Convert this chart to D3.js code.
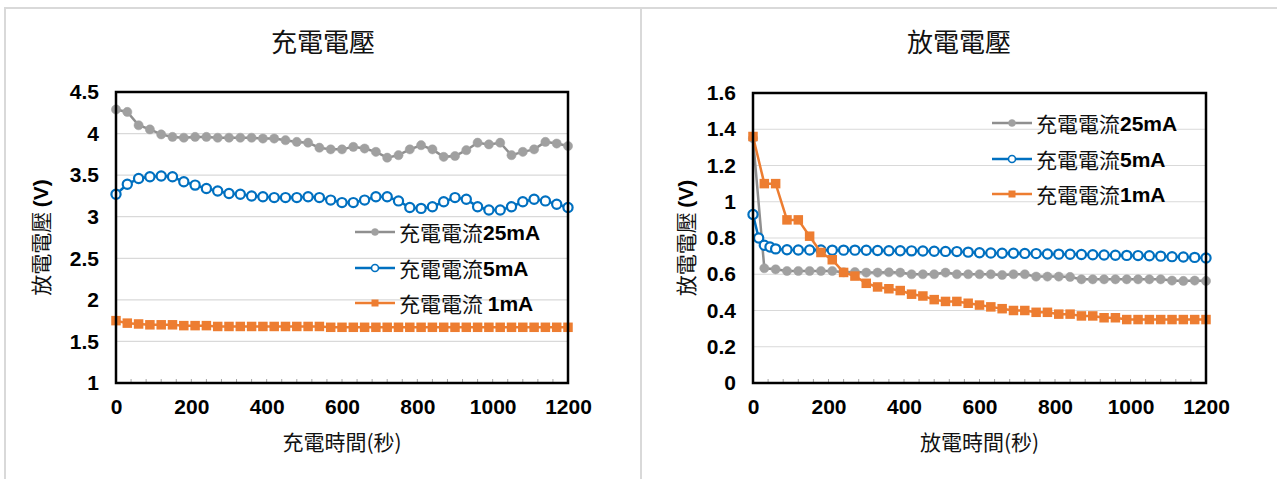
<!DOCTYPE html>
<html>
<head>
<meta charset="utf-8">
<script src="https://cdn.jsdelivr.net/npm/d3@7"></script>
<style>
  body { margin: 0; background: #fff; }
  .tick text { font-family: "Liberation Sans", Arial, sans-serif; font-weight: bold; font-size: 21px; fill: #000; }
  .cjk { font-family: "Noto Sans CJK TC", "Noto Sans CJK SC", sans-serif; fill: #111; }
</style>
</head>
<body>
<div id="chart"></div>
<script>
// Time stamps (seconds)
var timeStd = [0,30,60,90,120,150,180,210,240,270,300,330,360,390,420,450,480,510,540,570,
  600,630,660,690,720,750,780,810,840,870,900,930,960,990,1020,1050,1080,1110,1140,1170,1200];
var timeBlueDis = [0,15,30,45,60,90,120,150,180,210,240,270,300,330,360,390,420,450,480,510,540,570,
  600,630,660,690,720,750,780,810,840,870,900,930,960,990,1020,1050,1080,1110,1140,1170,1200];

// Charging voltage (left chart)
var charge25 = [4.29,4.26,4.10,4.05,3.99,3.96,3.95,3.96,3.96,3.95,3.95,3.95,3.95,3.94,3.94,3.92,3.90,3.89,3.83,3.81,
  3.81,3.84,3.82,3.78,3.71,3.74,3.81,3.86,3.81,3.72,3.73,3.80,3.89,3.87,3.89,3.74,3.78,3.81,3.90,3.88,3.85];
var charge5 = [3.27,3.39,3.46,3.48,3.49,3.48,3.42,3.38,3.34,3.31,3.28,3.27,3.25,3.24,3.23,3.23,3.23,3.24,3.23,3.20,
  3.17,3.17,3.20,3.24,3.24,3.19,3.11,3.10,3.12,3.18,3.23,3.21,3.12,3.08,3.08,3.12,3.18,3.21,3.19,3.15,3.11];
var charge1 = [1.75,1.72,1.71,1.70,1.70,1.70,1.69,1.69,1.69,1.68,1.68,1.68,1.68,1.68,1.68,1.68,1.68,1.68,1.68,1.67,
  1.67,1.67,1.67,1.67,1.67,1.67,1.67,1.67,1.67,1.67,1.67,1.67,1.67,1.67,1.67,1.67,1.67,1.67,1.67,1.67,1.67];

// Discharging voltage (right chart)
var discharge25 = [1.35,0.633,0.627,0.618,0.618,0.618,0.618,0.618,0.611,0.612,0.609,0.609,0.611,0.609,0.600,0.600,0.600,0.609,0.600,0.600,
  0.600,0.600,0.596,0.600,0.600,0.587,0.587,0.587,0.585,0.572,0.572,0.572,0.572,0.572,0.572,0.572,0.572,0.565,0.563,0.565,0.563];
var discharge5 = [0.93,0.80,0.76,0.75,0.74,0.735,0.734,0.734,0.734,0.733,0.733,0.733,0.732,0.731,0.73,0.73,0.729,0.728,0.727,0.726,0.725,0.722,
  0.719,0.717,0.716,0.716,0.715,0.714,0.712,0.711,0.71,0.709,0.708,0.706,0.705,0.704,0.703,0.702,0.70,0.697,0.695,0.693,0.69];
var discharge1 = [1.36,1.10,1.10,0.90,0.90,0.81,0.72,0.68,0.61,0.59,0.55,0.53,0.52,0.51,0.49,0.48,0.46,0.45,0.45,0.44,
  0.43,0.42,0.41,0.40,0.40,0.39,0.39,0.38,0.38,0.37,0.37,0.36,0.36,0.35,0.35,0.35,0.35,0.35,0.35,0.35,0.35];

// Tick values
var xTicks = [0,200,400,600,800,1000,1200];
var yTicksCharge = [1,1.5,2,2.5,3,3.5,4,4.5];
var yTicksDischarge = [0,0.2,0.4,0.6,0.8,1,1.2,1.4,1.6];

var svgWidth = 1277;
var svgHeight = 479;

var svg = d3.select("#chart")
  .append("svg")
  .attr("width", svgWidth)
  .attr("height", svgHeight);

// Panel borders
svg.append("rect")
  .attr("x", 5).attr("y", 8).attr("width", 636).attr("height", 500)
  .attr("fill", "none").attr("stroke", "#d9d9d9").attr("stroke-width", 2);
svg.append("rect")
  .attr("x", 641).attr("y", 8).attr("width", 660).attr("height", 500)
  .attr("fill", "none").attr("stroke", "#d9d9d9").attr("stroke-width", 2);

var gray = "#a0a0a0", grayLine = "#8f8f8f", blue = "#0070c0", orange = "#ed7d31";

function drawChart(cfg) {
  var g = svg.append("g");

  var x = d3.scaleLinear().domain([0, 1200]).range([cfg.left, cfg.right]);
  var y = d3.scaleLinear().domain(cfg.yDomain).range([cfg.bottom, cfg.top]);

  // Horizontal gridlines
  g.selectAll(".grid")
    .data(cfg.yTicks)
    .enter()
    .append("line")
    .attr("x1", cfg.left).attr("x2", cfg.right)
    .attr("y1", d => y(d)).attr("y2", d => y(d))
    .attr("stroke", "#d9d9d9").attr("stroke-width", 1.2);

  // Minor ticks on the time axis
  g.selectAll(".minor")
    .data(d3.range(40, 1200, 40))
    .enter()
    .append("line")
    .attr("x1", d => x(d)).attr("x2", d => x(d))
    .attr("y1", cfg.bottom).attr("y2", cfg.bottom - 4)
    .attr("stroke", "#a6a6a6").attr("stroke-width", 1);

  // Axes (labels only, lines are drawn with the frame)
  var leftAxis = d3.axisLeft(y).tickValues(cfg.yTicks).tickSize(0).tickPadding(17)
    .tickFormat(d3.format("~g"));
  var bottomAxis = d3.axisBottom(x).tickValues(xTicks).tickSize(0).tickPadding(16)
    .tickFormat(d3.format("d"));

  g.append("g").attr("transform", `translate(${cfg.left},0)`).call(leftAxis)
    .call(a => a.select(".domain").remove());
  g.append("g").attr("transform", `translate(0,${cfg.bottom})`).call(bottomAxis)
    .call(a => a.select(".domain").remove());

  // Series lines and markers
  cfg.series.forEach(function(s) {
    var pts = s.values.map((v, i) => [s.times[i], v]);
    var line = d3.line().x(d => x(d[0])).y(d => y(d[1]));
    g.append("path")
      .datum(pts)
      .attr("d", line)
      .attr("fill", "none")
      .attr("stroke", s.line)
      .attr("stroke-width", 2.5);

    if (s.shape === "square") {
      g.selectAll(null)
        .data(pts)
        .enter()
        .append("rect")
        .attr("x", d => x(d[0]) - 4.75)
        .attr("y", d => y(d[1]) - 4.75)
        .attr("width", 9.5).attr("height", 9.5)
        .attr("fill", s.color);
    } else {
      g.selectAll(null)
        .data(pts)
        .enter()
        .append("circle")
        .attr("cx", d => x(d[0]))
        .attr("cy", d => y(d[1]))
        .attr("r", s.shape === "open" ? 4.6 : 4.6)
        .attr("fill", s.shape === "open" ? "#fff" : s.color)
        .attr("stroke", s.color)
        .attr("stroke-width", s.shape === "open" ? 2.2 : 0.5);
    }
  });

  // Plot area frame
  g.append("rect")
    .attr("x", cfg.left).attr("y", cfg.top)
    .attr("width", cfg.right - cfg.left).attr("height", cfg.bottom - cfg.top)
    .attr("fill", "none").attr("stroke", "#000").attr("stroke-width", 2.5);

  // Legend
  cfg.series.forEach(function(s, i) {
    var ly = cfg.legendY[i];
    var lg = g.append("g");
    lg.append("line")
      .attr("x1", cfg.legendX).attr("x2", cfg.legendX + 40)
      .attr("y1", ly).attr("y2", ly)
      .attr("stroke", s.line).attr("stroke-width", 2.5);
    if (s.shape === "square") {
      lg.append("rect")
        .attr("x", cfg.legendX + 16.5).attr("y", ly - 3.5)
        .attr("width", 7).attr("height", 7).attr("fill", s.color);
    } else {
      lg.append("circle")
        .attr("cx", cfg.legendX + 20).attr("cy", ly).attr("r", 3.5)
        .attr("fill", s.shape === "open" ? "#fff" : s.color)
        .attr("stroke", s.color).attr("stroke-width", s.shape === "open" ? 1.6 : 0.5);
    }
    var t = lg.append("text")
      .attr("x", cfg.legendX + 44).attr("y", ly)
      .attr("dominant-baseline", "central")
      .attr("font-size", "21px");
    t.append("tspan").attr("class", "cjk").text(s.label[0]);
    t.append("tspan")
      .attr("font-family", "'Liberation Sans', Arial, sans-serif")
      .attr("font-weight", "bold").attr("fill", "#000")
      .text(s.label[1]);
  });

  // Titles
  g.append("text")
    .attr("class", "cjk")
    .attr("x", cfg.titleX).attr("y", 40)
    .attr("text-anchor", "middle").attr("dominant-baseline", "central")
    .attr("font-size", "26px")
    .text(cfg.title);

  g.append("text")
    .attr("class", "cjk")
    .attr("x", (cfg.left + cfg.right) / 2).attr("y", 441)
    .attr("text-anchor", "middle").attr("dominant-baseline", "central")
    .attr("font-size", "21px")
    .text(cfg.xTitle);

  var yt = g.append("text")
    .attr("transform", `translate(${cfg.yTitleX},${(cfg.top + cfg.bottom) / 2}) rotate(-90)`)
    .attr("text-anchor", "middle").attr("dominant-baseline", "central")
    .attr("font-size", "21px");
  yt.append("tspan").attr("class", "cjk").text("放電電壓 ");
  yt.append("tspan")
    .attr("font-family", "'Liberation Sans', Arial, sans-serif")
    .attr("font-weight", "bold").attr("fill", "#000")
    .text("(V)");
}

// Left chart: charging voltage
drawChart({
  left: 116, right: 568, top: 92, bottom: 383,
  yDomain: [1, 4.5], yTicks: yTicksCharge,
  title: "充電電壓", titleX: 323, xTitle: "充電時間(秒)", yTitleX: 40,
  legendX: 355, legendY: [232, 268, 303],
  series: [
    { times: timeStd, values: charge25, color: gray, line: grayLine, shape: "dot", label: ["充電電流", "25mA"] },
    { times: timeStd, values: charge5, color: blue, line: blue, shape: "open", label: ["充電電流", "5mA"] },
    { times: timeStd, values: charge1, color: orange, line: orange, shape: "square", label: ["充電電流 ", "1mA"] }
  ]
});

// Right chart: discharging voltage
drawChart({
  left: 753, right: 1206, top: 93, bottom: 383,
  yDomain: [0, 1.6], yTicks: yTicksDischarge,
  title: "放電電壓", titleX: 959, xTitle: "放電時間(秒)", yTitleX: 685,
  legendX: 992, legendY: [123, 159, 194],
  series: [
    { times: timeStd, values: discharge25, color: gray, line: grayLine, shape: "dot", label: ["充電電流", "25mA"] },
    { times: timeBlueDis, values: discharge5, color: blue, line: blue, shape: "open", label: ["充電電流", "5mA"] },
    { times: timeStd, values: discharge1, color: orange, line: orange, shape: "square", label: ["充電電流", "1mA"] }
  ]
});
</script>
</body>
</html>
